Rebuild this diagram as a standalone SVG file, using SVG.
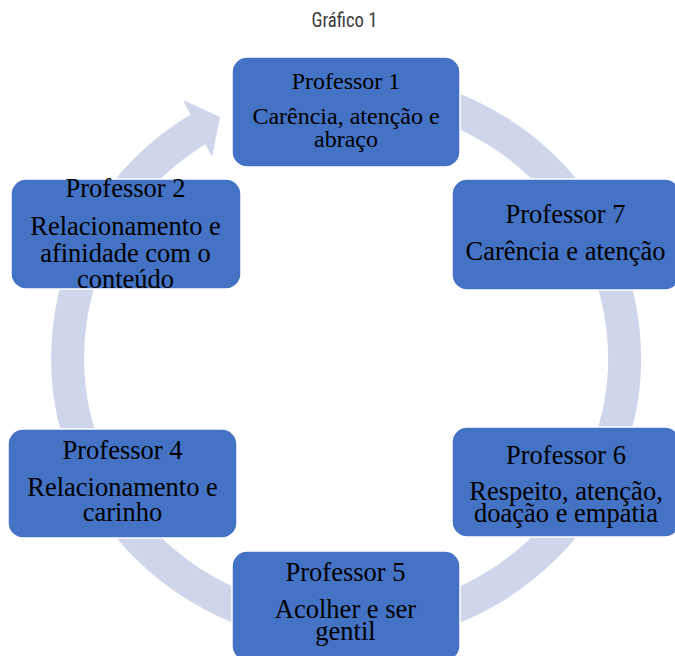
<svg xmlns="http://www.w3.org/2000/svg" width="675" height="656" viewBox="0 0 675 656">
<style>
.box{fill:#4472C4;stroke:#FFFFFF;stroke-width:1.5}
.t{font-family:"Liberation Serif","Times New Roman",serif;font-size:26.5px;fill:#000;text-anchor:middle}
.t1{font-size:24px}
.ring{fill:none;stroke:#CFD5EA;stroke-width:33}
.title{font-family:"Liberation Sans Narrow","Roboto Condensed","Liberation Sans",sans-serif;font-size:19.5px;fill:#3a3a3a;text-anchor:middle}
</style>
<rect width="675" height="656" fill="#FFFFFF"/>
<text class="title" x="344.5" y="26.5" textLength="66" lengthAdjust="spacingAndGlyphs">Gráfico 1</text>
<g id="connectors">
<path class="ring" d="M 346 88 A 278.5 270 0 1 1 204.7 125.4"/>
<polygon points="183,100 220,117 212,157" fill="#CFD5EA"/>
</g>
<g id="node1">
<rect class="box" x="232" y="57" width="228" height="110" rx="15"/>
<text class="t t1" x="346" y="89">Professor 1</text>
<text class="t t1" x="346" y="124">Carência, atenção e</text>
<text class="t t1" x="346" y="147">abraço</text>
</g>
<g id="node7">
<rect class="box" x="452" y="179" width="228" height="111" rx="15"/>
<text class="t" x="565.5" y="223">Professor 7</text>
<text class="t" x="565.5" y="260">Carência e atenção</text>
</g>
<g id="node2">
<rect class="box" x="11" y="179" width="230" height="110" rx="15"/>
<text class="t" x="125.5" y="197">Professor 2</text>
<text class="t" x="125.5" y="235">Relacionamento e</text>
<text class="t" x="125.5" y="261.5">afinidade com o</text>
<text class="t" x="125.5" y="288">conteúdo</text>
</g>
<g id="node4">
<rect class="box" x="8" y="429" width="229" height="109" rx="15"/>
<text class="t" x="122.5" y="459">Professor 4</text>
<text class="t" x="122.5" y="496">Relacionamento e</text>
<text class="t" x="122.5" y="521">carinho</text>
</g>
<g id="node6">
<rect class="box" x="452" y="427" width="228" height="110" rx="15"/>
<text class="t" x="566" y="464">Professor 6</text>
<text class="t" x="566" y="500">Respeito, atenção,</text>
<text class="t" x="566" y="522">doação e empatia</text>
</g>
<g id="node5">
<rect class="box" x="232" y="551" width="228" height="110" rx="15"/>
<text class="t" x="345.5" y="580.5">Professor 5</text>
<text class="t" x="345.5" y="618">Acolher e ser</text>
<text class="t" x="345.5" y="640">gentil</text>
</g>
</svg>
